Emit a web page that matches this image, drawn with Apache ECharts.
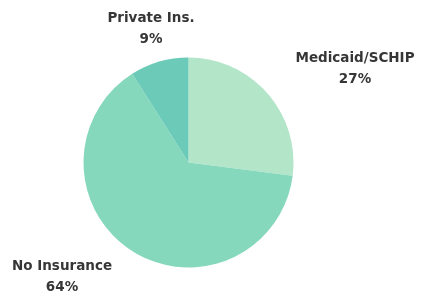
<!DOCTYPE html>
<html>
<head>
<meta charset="utf-8">
<script src="https://cdn.jsdelivr.net/npm/echarts@6/dist/echarts.min.js"></script>
<style>html,body{margin:0;padding:0;background:#fff;}#c{width:424px;height:295px;}</style>
</head>
<body>
<div id="c"></div>
<script>
var categories = ['Medicaid/SCHIP', 'No Insurance', 'Private Ins.'];
var values = [27, 64, 9];
var colors = ['#b3e5c9', '#86d8bc', '#6ccab8'];
var labelPos = [[355, 69], [62, 277], [151, 29]];

var chart = echarts.init(document.getElementById('c'), null, {renderer: 'canvas'});
chart.setOption({
  backgroundColor: '#ffffff',
  animation: false,
  series: [{
    type: 'pie',
    center: [188.5, 162.5],
    radius: 105,
    startAngle: 90,
    clockwise: true,
    avoidLabelOverlap: false,
    data: categories.map(function (n, i) {
      return { name: n, value: values[i], itemStyle: { color: colors[i] } };
    }),
    label: {
      show: true,
      position: 'outside',
      formatter: '{b}\n{c}%',
      color: '#363636',
      fontFamily: 'DejaVu Sans',
      fontWeight: 'bold',
      fontSize: 13.5,
      lineHeight: 21,
      align: 'center',
      overflow: 'none',
      width: 200
    },
    labelLine: { show: false },
    labelLayout: function (p) {
      var pos = labelPos[p.dataIndex];
      return { x: pos[0], y: pos[1], align: 'center', verticalAlign: 'middle' };
    },
    emphasis: { disabled: true }
  }]
});
</script>
</body>
</html>
